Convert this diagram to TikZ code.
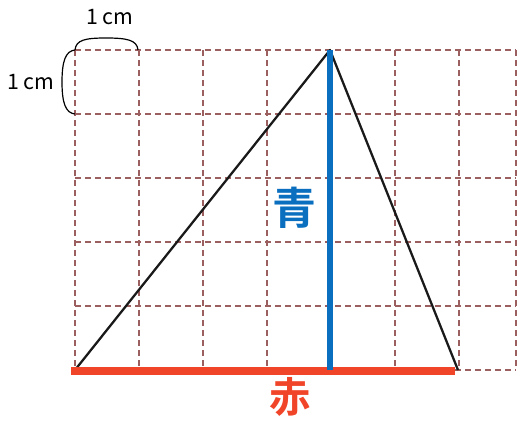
\documentclass[tikz,border=0pt]{standalone}
\usepackage{fontspec}
\setmainfont{Noto Sans CJK JP}
\newfontfamily\jpbold{Noto Sans CJK JP Bold}
\definecolor{gridc}{HTML}{9C5F5F}
\definecolor{bluec}{HTML}{0A6FBF}
\definecolor{redc}{HTML}{F1452A}
\begin{document}
\begin{tikzpicture}[x=0.75pt,y=-0.75pt,
  gridline/.style={draw=gridc,line width=1pt,dash pattern=on 4.5pt off 3pt},
  tri/.style={draw=black!90,line width=1.7pt},
  brace/.style={draw=black,line width=0.9pt},
  lbl/.style={inner sep=0pt,font=\fontsize{16}{16}\selectfont}]
\useasboundingbox (0,0) rectangle (517,421);
% grid
\foreach \x in {75,139,203,267,331,395,459,516}
  \draw[gridline] (\x,50) -- (\x,370);
\foreach \y in {50,114,178,242,306,370}
  \draw[gridline] (75,\y) -- (516,\y);
% triangle
\coordinate (A) at (330,50);
\coordinate (B) at (75,370);
\coordinate (C) at (458,370);
\coordinate (H) at (330,370);
\draw[tri,line join=round] (B) -- (A) -- (C);
% red base and blue height
\draw[draw=redc,line width=5.5pt] (71,371) -- (455,371);
\draw[draw=bluec,line width=4.8pt] (A) -- (H);
% braces
\draw[brace] (75,50) .. controls (76,40) and (85,38) .. (106,38) .. controls (127,38) and (137,40) .. (138,50);
\draw[brace] (75,50) .. controls (66,51) and (62,60) .. (62,82) .. controls (62,104) and (66,113) .. (75,114);
% labels
\node[lbl] (top) at (110,17) {1 cm};
\node[lbl] (left) at (31,82) {1 cm};
\node[inner sep=0pt,text=bluec,font=\jpbold\fontsize{33}{33}\selectfont] (ao) at (294,208) {青};
\node[inner sep=0pt,text=redc,font=\jpbold\fontsize{31}{31}\selectfont] (aka) at (290,397) {赤};
\end{tikzpicture}
\end{document}
